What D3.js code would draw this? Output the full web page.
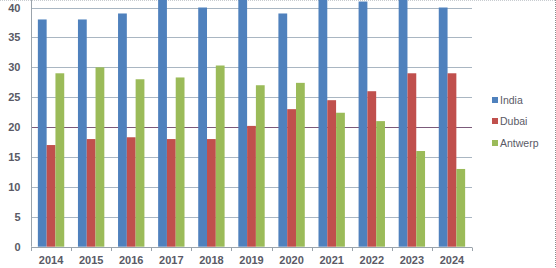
<!DOCTYPE html>
<html><head><meta charset="utf-8">
<script src="https://cdn.jsdelivr.net/npm/d3@7"></script>
<style>
body{margin:0;background:#fff;}
svg{display:block;font-family:"Liberation Sans",Arial,sans-serif;}
</style></head>
<body>
<svg id="c" width="556" height="268"></svg>
<script>
const years = ["2014","2015","2016","2017","2018","2019","2020","2021","2022","2023","2024"];
const seriesNames = ["India","Dubai","Antwerp"];
const india   = [38, 38, 39, 42, 40, 42, 39, 42, 41, 42, 40];
const dubai   = [17, 18, 18.3, 18, 18, 20.2, 23, 24.5, 26, 29, 29];
const antwerp = [29, 30, 28, 28.3, 30.3, 27, 27.4, 22.4, 21, 16, 13];
const colors = ["#4F81BD","#C0504D","#9BBB59"];
const yTicks = [0,5,10,15,20,25,30,35,40];

const values = [india, dubai, antwerp];
const svg = d3.select("#c");
const left = 31, right = 472, y0px = 246.7, y40px = 7.5;

const x = d3.scaleBand().domain(years).range([left, right]).paddingInner(0).paddingOuter(0);
const y = d3.scaleLinear().domain([0, 40]).range([y0px, y40px]);
const xs = d3.scaleBand().domain(seriesNames).range([0, x.bandwidth()]).paddingInner(0.0).paddingOuter(0.78);

// border
svg.append("line").attr("x1",555.5).attr("x2",555.5).attr("y1",0).attr("y2",268)
  .attr("stroke","#8c8c8c").attr("stroke-dasharray","1,1");
svg.append("line").attr("x1",0).attr("x2",556).attr("y1",0.5).attr("y2",0.5)
  .attr("stroke","#c8ccd0").attr("stroke-dasharray","1,1");

// gridlines
svg.append("g").selectAll("line").data(yTicks.filter(d=>d>0)).join("line")
  .attr("x1", left).attr("x2", right)
  .attr("y1", d => Math.round(y(d))+0.5).attr("y2", d => Math.round(y(d))+0.5)
  .attr("stroke", d => d===20 ? "#7b5a7a" : "#a9b6c2")
  .attr("stroke-width", 1);

// bars
const g = svg.append("g");
years.forEach((yr, i) => {
  seriesNames.forEach((s, j) => {
    const v = values[j][i];
    g.append("rect")
      .attr("x", x(yr) + xs(s))
      .attr("y", y(v))
      .attr("width", xs.bandwidth())
      .attr("height", y(0) - y(v))
      .attr("fill", colors[j]);
  });
});

// y axis
const yAxis = d3.axisLeft(y).tickValues(yTicks).tickSize(0).tickPadding(11);
const ya = svg.append("g").attr("transform", `translate(${left+0.5},0)`).call(yAxis);
ya.select(".domain").attr("stroke","#9aa3ab").attr("d", `M0,${y0px}V0`);
ya.selectAll("text").attr("fill","#5a5a66").attr("font-size","11px").attr("font-weight","bold");

// x axis
const xAxis = d3.axisBottom(x).tickSize(0).tickPadding(9);
const xa = svg.append("g").attr("transform", `translate(0,${Math.round(y0px)+0.5})`).call(xAxis);
xa.select(".domain").attr("stroke","#9aa3ab").attr("d", `M${left},0H${right}`);
xa.selectAll("text").attr("fill","#5a5a66").attr("font-size","11px").attr("font-weight","bold");
// category boundary ticks
svg.append("g").selectAll("line").data(years).join("line")
  .attr("x1", d => Math.round(x(d))+0.5).attr("x2", d => Math.round(x(d))+0.5)
  .attr("y1", Math.round(y0px)+0.5).attr("y2", Math.round(y0px)+4)
  .attr("stroke","#9aa3ab");
svg.append("line").attr("x1",right+0.5).attr("x2",right+0.5)
  .attr("y1",Math.round(y0px)+0.5).attr("y2",Math.round(y0px)+4).attr("stroke","#9aa3ab");

// legend
const legY = [100, 121, 143];
const lg = svg.append("g");
seriesNames.forEach((s, j) => {
  lg.append("rect").attr("x", 492).attr("y", legY[j]-3).attr("width", 6).attr("height", 6).attr("fill", colors[j]);
  lg.append("text").attr("x", 500).attr("y", legY[j]).attr("dy","0.35em")
    .attr("font-size","10.5px").attr("fill","#5a5a66").text(s);
});
</script>
</body></html>
